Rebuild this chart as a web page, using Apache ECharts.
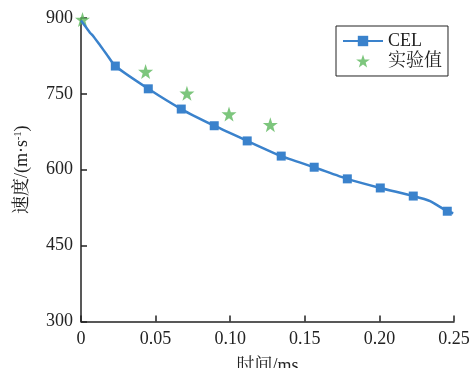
<!DOCTYPE html>
<html><head><meta charset="utf-8">
<script src="https://cdn.jsdelivr.net/npm/echarts@6/dist/echarts.min.js"></script>
<style>html,body{margin:0;padding:0;background:#fff}#c{width:471px;height:368px}</style>
</head><body><div id="c"></div>
<script>
// CEL simulation curve
const celTime  = [0, 0.003, 0.006, 0.008, 0.013, 0.017, 0.023, 0.0451, 0.0672, 0.0893, 0.1114, 0.1342, 0.1563, 0.1785, 0.2006, 0.2227, 0.234, 0.2455, 0.2495];
const celSpeed = [895, 883, 871, 865, 845, 829, 805, 760, 720, 687, 657, 627, 605, 582, 564, 548, 538, 518, 514];
const celMarked = [0, 0, 0, 0, 0, 0, 1, 1, 1, 1, 1, 1, 1, 1, 1, 1, 0, 1, 0];
// experimental values
const expTime  = [0.001, 0.0433, 0.0710, 0.0992, 0.1269];
const expSpeed = [897, 794, 751, 710, 689];
const xTicks = [0, 0.05, 0.10, 0.15, 0.20, 0.25];
const yTicks = [300, 450, 600, 750, 900];

const FONT = '"Liberation Serif", "Noto Serif CJK SC", "Noto Sans CJK SC", serif';
const ink = '#222';
const chart = echarts.init(document.getElementById('c'));
chart.setOption({
  backgroundColor: '#fff',
  animation: false,
  textStyle: { fontFamily: FONT },
  grid: { left: 81, right: 17, top: 18, bottom: 46.5, containLabel: false, outerBoundsMode: 'none' },
  legend: {
    orient: 'vertical', left: 336, top: 26,
    data: ['CEL', '实验值'],
    borderColor: ink, borderWidth: 1, borderRadius: 0,
    padding: [6, 6, 6, 6], itemGap: 2, itemWidth: 40, itemHeight: 13,
    textStyle: { fontFamily: FONT, fontSize: 18, color: ink, padding: [0, 0, 0, 0] }
  },
  xAxis: {
    type: 'value', min: xTicks[0], max: xTicks[xTicks.length - 1], interval: 0.05,
    name: '时间/ms', nameLocation: 'middle', nameGap: 36,
    nameTextStyle: { fontFamily: FONT, fontSize: 18, color: ink },
    axisLine: { show: true, lineStyle: { color: ink, width: 1.5 } },
    axisTick: { show: true, inside: true, length: 6, lineStyle: { color: ink, width: 1.5 } },
    splitLine: { show: false },
    axisLabel: { margin: 9, fontFamily: FONT, fontSize: 18, color: ink,
      formatter: v => v === 0 ? '0' : v.toFixed(2) }
  },
  yAxis: {
    type: 'value', min: yTicks[0], max: yTicks[yTicks.length - 1], interval: 150,
    name: '{n|速度/(m·s}{s|-1}{n|)}', nameLocation: 'middle', nameGap: 50, nameRotate: 90,
    nameTextStyle: { rich: {
      n: { fontFamily: FONT, fontSize: 18, color: ink },
      s: { fontFamily: FONT, fontSize: 10, color: ink, verticalAlign: 'top', padding: [0, 0, 8, 0] }
    } },
    axisLine: { show: true, lineStyle: { color: ink, width: 1.5 } },
    axisTick: { show: true, inside: true, length: 6, lineStyle: { color: ink, width: 1.5 } },
    splitLine: { show: false },
    axisLabel: { margin: 8, fontFamily: FONT, fontSize: 18, color: ink }
  },
  series: [
    {
      name: '实验值', type: 'scatter', z: 1,
      symbol: 'path://M50,0 L61.8,35.1 L98.9,35.1 L69.1,57.3 L79.4,92.7 L50,71.5 L20.6,92.7 L30.9,57.3 L1.1,35.1 L38.2,35.1 Z',
      symbolSize: 15,
      itemStyle: { color: '#5cb85c' },
      data: expTime.map((t, i) => [t, expSpeed[i]])
    },
    {
      name: 'CEL', type: 'line', z: 2, smooth: 0.2,
      symbol: 'rect', symbolSize: 9,
      lineStyle: { color: '#3a82cc', width: 2.5 },
      itemStyle: { color: '#3a82cc' },
      data: celTime.map((t, i) => ({ value: [t, celSpeed[i]], symbol: celMarked[i] ? 'rect' : 'none' }))
    }
  ]
});
</script>
</body></html>
